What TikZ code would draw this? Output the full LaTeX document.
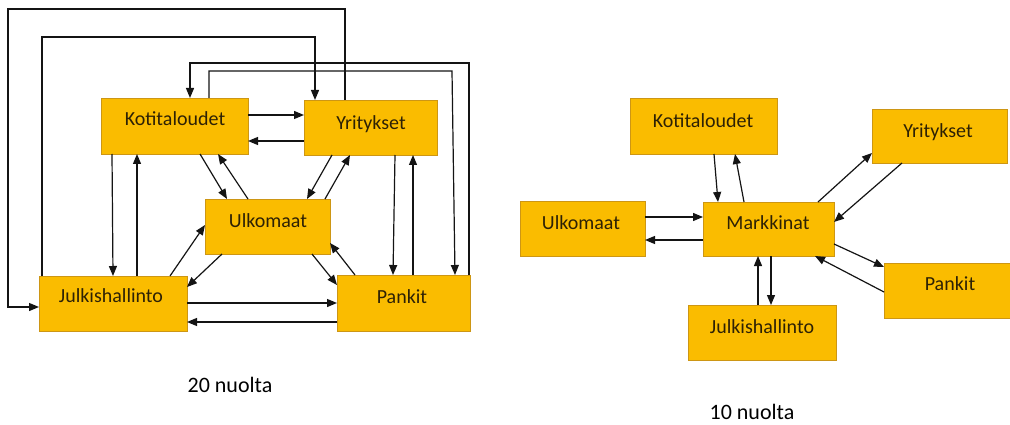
\documentclass[tikz,border=0pt]{standalone}
\usepackage{fontspec}
\setmainfont{Carlito}
\usetikzlibrary{arrows.meta}
\definecolor{boxfill}{RGB}{250,188,0}
\definecolor{boxline}{RGB}{205,150,20}
\definecolor{boxtext}{RGB}{45,33,5}
\definecolor{arrowcol}{RGB}{20,20,20}
\tikzset{
  box/.style={draw=boxline, fill=boxfill, line width=0.8pt, inner sep=0pt, outer sep=0pt},
  lbl/.style={text=boxtext, font=\fontsize{20}{24}\selectfont, inner sep=0pt},
  captext/.style={text=black, font=\fontsize{22}{26}\selectfont, inner sep=0pt},
  arr/.style={draw=arrowcol, line width=1.2pt, -{Triangle[length=10pt,width=8pt]}}
}
\begin{document}
\begin{tikzpicture}[x=1pt,y=-1pt]
\useasboundingbox[fill=white] (0,0) rectangle (1010,425);
% ---------- left diagram ----------
\node[box, minimum width=147pt, minimum height=56pt] (kL) at (174.5,126) {};
\node[box, minimum width=133pt, minimum height=55pt] (yL) at (370.5,127.5) {};
\node[box, minimum width=125pt, minimum height=55pt] (uL) at (267.5,226.5) {};
\node[box, minimum width=148pt, minimum height=55pt] (jL) at (113,303.5) {};
\node[box, minimum width=133pt, minimum height=56pt] (pL) at (403.5,303) {};
\node[lbl] (tkL) at (175,119) {Kotitaloudet};
\node[lbl] (tyL) at (371,124) {Yritykset};
\node[lbl] (tuL) at (268,221) {Ulkomaat};
\node[lbl] (tjL) at (111,296) {Julkishallinto};
\node[lbl] (tpL) at (402,297) {Pankit};
% long connectors
\draw[arr] (345,0 |- yL.north) -- (345,9) -- (8,9) -- (8,307) -- (jL.west |- 0,307);
\draw[arr] (42,0 |- jL.north) -- (42,37) -- (315,37) -- (315,0 |- yL.north);
\draw[arr] (469,0 |- pL.north) -- (469,63) -- (190,63) -- (190,0 |- kL.north);
\draw[arr] (209,0 |- kL.north) -- (209,71) -- (452,71) -- (455,0 |- pL.north);
% short connectors
\draw[arr] (kL.east |- 0,115) -- (yL.west |- 0,115);
\draw[arr] (yL.west |- 0,141) -- (kL.east |- 0,141);
\draw[arr] (112,0 |- kL.south) -- (113,0 |- jL.north);
\draw[arr] (137,0 |- jL.north) -- (137,0 |- kL.south);
\draw[arr] (200,0 |- kL.south) -- (227,0 |- uL.north);
\draw[arr] (248,0 |- uL.north) -- (218,0 |- kL.south);
\draw[arr] (332,0 |- yL.south) -- (307,0 |- uL.north);
\draw[arr] (325,0 |- uL.north) -- (350,0 |- yL.south);
\draw[arr] (395,0 |- yL.south) -- (393,0 |- pL.north);
\draw[arr] (413,0 |- pL.north) -- (413,0 |- yL.south);
\draw[arr] (170,0 |- jL.north) -- (uL.west |- 0,225);
\draw[arr] (222,0 |- uL.south) -- (jL.east |- 0,287);
\draw[arr] (312,0 |- uL.south) -- (pL.west |- 0,285);
\draw[arr] (355,0 |- pL.north) -- (uL.east |- 0,243);
\draw[arr] (jL.east |- 0,303) -- (pL.west |- 0,303);
\draw[arr] (pL.west |- 0,322) -- (jL.east |- 0,322);
\node[captext] (c20) at (230,385) {20 nuolta};
% ---------- right diagram ----------
\node[box, minimum width=147pt, minimum height=56pt] (kR) at (703.5,126) {};
\node[box, minimum width=135pt, minimum height=54pt] (yR) at (939.5,136) {};
\node[box, minimum width=125pt, minimum height=55pt] (uR) at (582.5,228.5) {};
\node[box, minimum width=131pt, minimum height=54pt] (mR) at (768.5,229) {};
\node[box, minimum width=126pt, minimum height=55pt] (pR) at (947,290.5) {};
\node[box, minimum width=148pt, minimum height=55pt] (jR) at (762,332.5) {};
\node[lbl] (tkR) at (703,121) {Kotitaloudet};
\node[lbl] (tyR) at (938,132) {Yritykset};
\node[lbl] (tuR) at (581,223) {Ulkomaat};
\node[lbl] (tmR) at (768,223) {Markkinat};
\node[lbl] (tpR) at (950,284) {Pankit};
\node[lbl] (tjR) at (762,327) {Julkishallinto};
\draw[arr] (714,0 |- kR.south) -- (718,0 |- mR.north);
\draw[arr] (744,0 |- mR.north) -- (735,0 |- kR.south);
\draw[arr] (uR.east |- 0,217) -- (mR.west |- 0,217);
\draw[arr] (mR.west |- 0,240) -- (uR.east |- 0,240);
\draw[arr] (818,0 |- mR.north) -- (yR.west |- 0,153);
\draw[arr] (902,0 |- yR.south) -- (mR.east |- 0,222);
\draw[arr] (mR.east |- 0,244) -- (pR.west |- 0,267);
\draw[arr] (pR.west |- 0,292) -- (815,0 |- mR.south);
\draw[arr] (758,0 |- jR.north) -- (758,0 |- mR.south);
\draw[arr] (771,0 |- mR.south) -- (771,0 |- jR.north);
\node[captext] (c10) at (752,412) {10 nuolta};
\end{tikzpicture}
\end{document}
